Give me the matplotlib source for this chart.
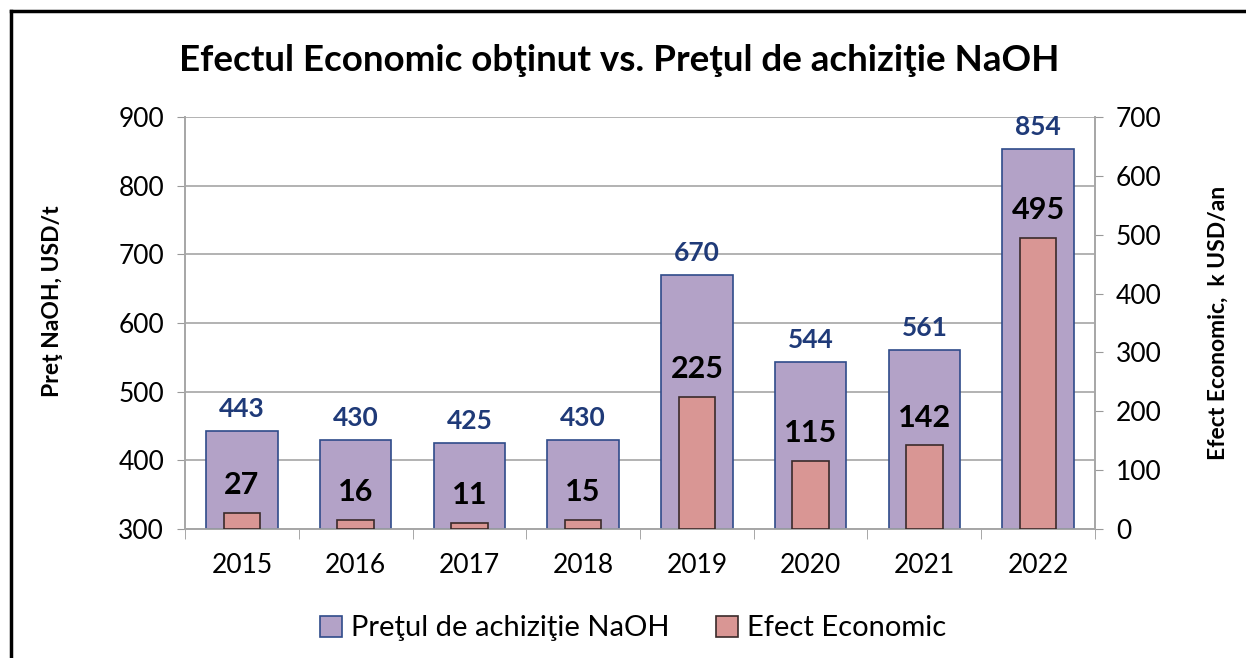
import numpy as np
import matplotlib.pyplot as plt
from matplotlib.lines import Line2D

plt.rcParams['font.family'] = ['Lato', 'DejaVu Sans']

years = ['2015', '2016', '2017', '2018', '2019', '2020', '2021', '2022']
price = [443, 430, 425, 430, 670, 544, 561, 854]
effect = [27, 16, 11, 15, 225, 115, 142, 495]

fig = plt.figure(figsize=(12.46, 6.58), dpi=100)
ax = fig.add_axes([0.1485, 0.196, 0.7303, 0.626])
ax2 = ax.twinx()

x = np.arange(len(years))
bars1 = ax.bar(x, np.array(price) - 300, bottom=300, width=0.63, color='#B3A2C7',
               edgecolor='#2F4B8A', linewidth=1.2, zorder=3, label='Preţul de achiziţie NaOH')
bars2 = ax2.bar(x, effect, width=0.32, color='#D99694', edgecolor='#3A2A2A',
                linewidth=1.2, zorder=3, label='Efect Economic')

ax.set_ylim(300, 900)
ax.set_yticks(range(300, 901, 100))
ax2.set_ylim(0, 700)
ax2.set_yticks(range(0, 701, 100))
ax.set_xlim(-0.5, len(years) - 0.5)
ax.set_xticks(x)
ax.set_xticklabels(years)
ax.set_xticks(np.arange(-0.5, len(years)), minor=True)
ax.tick_params(axis='x', which='major', length=0, labelsize=19, pad=17)
ax.tick_params(axis='x', which='minor', length=7, color='#999999')
ax.tick_params(axis='y', labelsize=19, length=6, color='#999999', pad=9)
ax2.tick_params(axis='y', labelsize=19, length=6, color='#999999', pad=9)

ax.grid(axis='y', color='#A6A6A6', linewidth=1.2, zorder=0)
ax.set_axisbelow(True)
for a in (ax, ax2):
    a.spines['top'].set_visible(False)
    for s in ('left', 'right', 'bottom'):
        a.spines[s].set_color('#A6A6A6')
        a.spines[s].set_linewidth(1.2)

for i, v in enumerate(price):
    ax.annotate(str(v), (i, v), xytext=(0, 7), textcoords='offset points',
                ha='center', va='bottom', fontsize=19, fontweight='bold', color='#1F3A78')
for i, v in enumerate(effect):
    ax2.annotate(str(v), (i, v), xytext=(0, 10), textcoords='offset points',
                 ha='center', va='bottom', fontsize=22, fontweight='bold', color='black')

ax.set_ylabel('Preţ NaOH, USD/t', fontsize=16.5, fontweight='bold', labelpad=40)
ax.yaxis.label.set_y(0.553)
ax2.set_ylabel('Efect Economic,  k USD/an', fontsize=16.5, fontweight='bold', labelpad=33)

fig.text(0.497, 0.908, 'Efectul Economic obţinut vs. Preţul de achiziţie NaOH',
         ha='center', va='center', fontsize=26.5, fontweight='bold')

handles = [bars1, bars2]
fig.legend(handles, [h.get_label() for h in handles], loc='center', bbox_to_anchor=(0.508, 0.045),
           ncol=2, frameon=False, fontsize=21, handlelength=0.75, handleheight=0.75,
           columnspacing=1.6, handletextpad=0.3)

# outer frame (left and top edges)
fig.add_artist(Line2D([0.0088, 0.0088], [0, 0.983], color='black', linewidth=2.5, transform=fig.transFigure))
fig.add_artist(Line2D([0.0088, 1], [0.983, 0.983], color='black', linewidth=2.5, transform=fig.transFigure))

fig.savefig('out.png', dpi=100)
